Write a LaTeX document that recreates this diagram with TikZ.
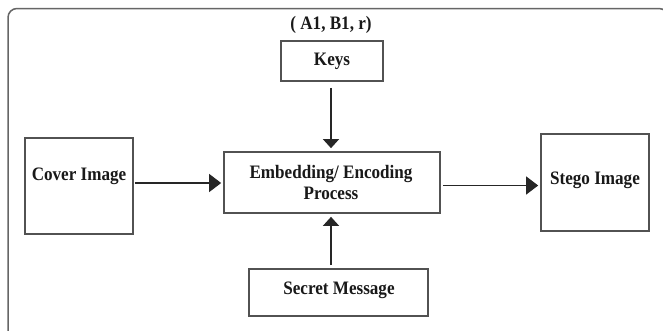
\documentclass[tikz,border=0pt]{standalone}
\usepackage{fontspec}
\setmainfont{Liberation Serif}
\newfontfamily\boxfont[FakeStretch=0.9]{Liberation Serif}
\usetikzlibrary{arrows.meta}
\tikzset{
  frame/.style={draw=black!60, line width=1.5pt, rounded corners=9pt},
  blk/.style={draw=black!68, line width=1.7pt, fill=white, inner sep=0pt},
  lbl/.style={font=\boxfont\bfseries\fontsize{19}{21}\selectfont, text=black!90, align=center, inner sep=0pt},
  harrow/.style={draw=black!85, line width=1.2pt, -{Triangle[length=12pt,width=18pt]}},
  varrow/.style={draw=black!85, line width=1.2pt, -{Triangle[length=9pt,width=16pt]}}
}
\begin{document}
\begin{tikzpicture}[x=1pt,y=-1pt]
\useasboundingbox (0,0) rectangle (663,330);
\fill[white] (0,0) rectangle (663,330);
% outer frame, running past the right and bottom edges
\draw[frame] (8,8.5) rectangle (668,340);

% boxes
\node[blk, minimum width=102pt, minimum height=40pt] (keys) at (332,61) {};
\node[blk, minimum width=216pt, minimum height=61pt] (embed) at (332,182.5) {};
\node[blk, minimum width=108pt, minimum height=96pt] (cover) at (79,186) {};
\node[blk, minimum width=108pt, minimum height=97pt] (stego) at (595,182.5) {};
\node[blk, minimum width=179pt, minimum height=47pt] (secret) at (338.5,292.5) {};

% texts
\node[lbl] (keylabel) at (331,25) {( A1, B1, r)};
\node[lbl] (keystext) at (keys.center) {Keys};
\node[lbl] (embedtext) at (331,182.5) {Embedding/ Encoding\\Process};
\node[lbl] (covertext) at (79,176) {Cover Image};
\node[lbl] (stegotext) at (595,180) {Stego Image};
\node[lbl] (secrettext) at (339,290) {Secret Message};

% connectors
\draw[varrow, shorten <=6pt, shorten >=3pt] (keys.south -| 331,0) -- (embed.north -| 331,0);
\draw[varrow, shorten <=3pt, shorten >=3pt] (secret.north -| 331,0) -- (embed.south -| 331,0);
\draw[harrow, shorten <=1pt, shorten >=2pt] (cover.east |- 0,183) -- (embed.west |- 0,183);
\draw[harrow, shorten <=2pt, shorten >=2pt] (embed.east |- 0,185.5) -- (stego.west |- 0,185.5);
\end{tikzpicture}
\end{document}
